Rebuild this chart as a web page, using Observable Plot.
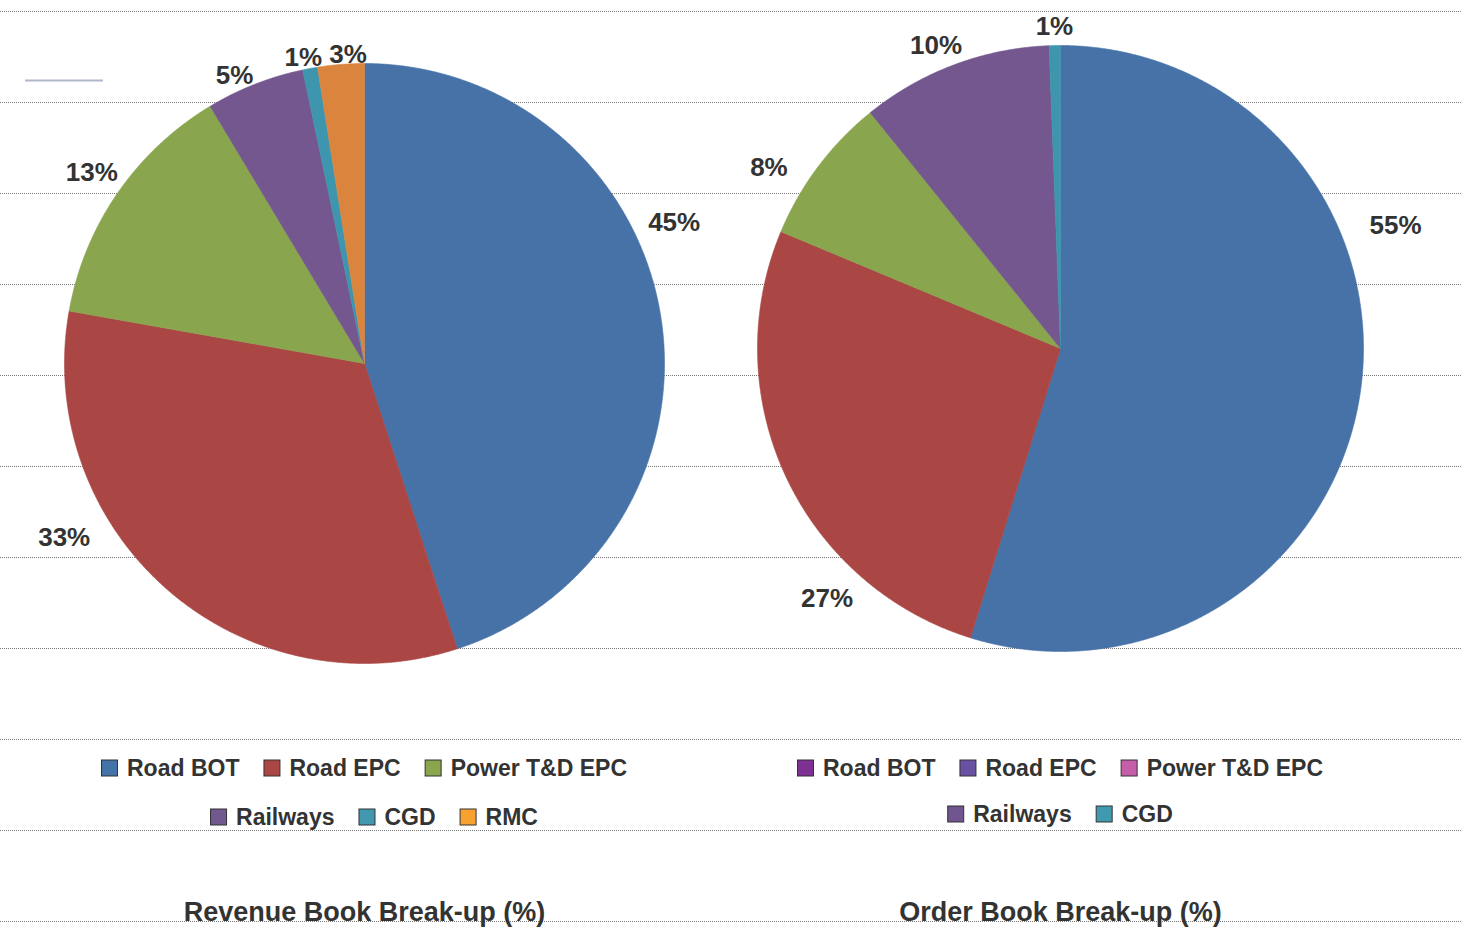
<!DOCTYPE html>
<html><head><meta charset="utf-8">
<script src="https://cdn.jsdelivr.net/npm/d3@7"></script>
<script src="https://cdn.jsdelivr.net/npm/@observablehq/plot@0.6"></script>
<style>body{margin:0;background:#fff;}</style>
</head><body><div id="chart"></div>
<script>
// ---- data ----
const revenueCategories = ["Road BOT", "Road EPC", "Power T&D EPC", "Railways", "CGD", "RMC"];
const revenueValues = [45, 32.8, 13.6, 5.3, 0.8, 2.5];
const revenueLabels = ["45%", "33%", "13%", "5%", "1%", "3%"];
const orderCategories = ["Road BOT", "Road EPC", "Power T&D EPC", "Railways", "CGD"];
const orderValues = [54.8, 26.5, 7.9, 10.2, 0.6];
const orderLabels = ["55%", "27%", "8%", "10%", "1%"];
const revenueTitle = "Revenue Book Break-up (%)";
const orderTitle = "Order Book Break-up (%)";

// ---- styles ----
const sliceColors = {"Road BOT":"#4672A7","Road EPC":"#AA4643","Power T&D EPC":"#89A54E","Railways":"#74578F","CGD":"#3D96AE","RMC":"#DB843D"};
const revLegendColors = {"Road BOT":"#4572A7","Road EPC":"#AA4643","Power T&D EPC":"#89A54E","Railways":"#71588F","CGD":"#4198AF","RMC":"#F7A230"};
const ordLegendColors = {"Road BOT":"#7E3192","Road EPC":"#6A52A3","Power T&D EPC":"#C55EA8","Railways":"#70558F","CGD":"#3F9AB0"};
const TEXT = "#333";
const FONT = "'Liberation Sans', Arial, Helvetica, sans-serif";

// ---- layout ----
const W = 1462, H = 932;
const pies = [
  {cats: revenueCategories, values: revenueValues, labels: revenueLabels, cx: 364, cy: 363, r: 300,
   labelFrac: [0.405, 0.66, 0.51, 0.35, 0.2, 0.66], labelPad: [40, 47, 33, 16, 12, 9],
   legendRows: [[0,1,2],[3,4,5]], legendY: [768, 817], legendShift: [0, 10], legendColors: revLegendColors, title: revenueTitle},
  {cats: orderCategories, values: orderValues, labels: orderLabels, cx: 1060, cy: 348, r: 303,
   labelFrac: [0.354, 0.27, 0.32, 0.45, 0.5], labelPad: [54, 39, 40, 24, 19],
   legendRows: [[0,1,2],[3,4]], legendY: [768, 814], legendShift: [0, 0], legendColors: ordLegendColors, title: orderTitle}
];
const titleY = 912;
const gridYs = d3.range(11, H, 91);

const ctx = document.createElement("canvas").getContext("2d");
const legendFontSize = 23;
ctx.font = `bold ${legendFontSize}px 'Liberation Sans'`;

const polys = [], pieLabels = [], swatches = [], legendTexts = [], titles = [];
pies.forEach((p, pi) => {
  const arcs = d3.pie().sort(null).value(d => d)(p.values);
  arcs.forEach((a, i) => {
    const key = pi + "-" + i;
    const col = sliceColors[p.cats[i]];
    polys.push({key, x: p.cx, y: p.cy, color: col});
    const n = Math.max(2, Math.ceil((a.endAngle - a.startAngle) / 0.004));
    for (let k = 0; k <= n; k++) {
      const t = a.startAngle + (a.endAngle - a.startAngle) * k / n;
      polys.push({key, x: p.cx + p.r * Math.sin(t), y: p.cy - p.r * Math.cos(t), color: col});
    }
    polys.push({key, x: p.cx, y: p.cy, color: col});
    const la = a.startAngle + (a.endAngle - a.startAngle) * p.labelFrac[i];
    const ld = p.r + p.labelPad[i];
    pieLabels.push({x: p.cx + ld * Math.sin(la), y: p.cy - ld * Math.cos(la), text: p.labels[i]});
  });
  // legend
  const sw = 16, gapIn = 9, gapOut = 25;
  p.legendRows.forEach((row, ri) => {
    const widths = row.map(i => sw + gapIn + ctx.measureText(p.cats[i]).width);
    const total = d3.sum(widths) + gapOut * (row.length - 1);
    let x = p.cx - total / 2 + p.legendShift[ri];
    const y = p.legendY[ri];
    row.forEach((i, j) => {
      swatches.push({x1: x, x2: x + sw, y1: y - 8, y2: y + 8, color: p.legendColors[p.cats[i]]});
      legendTexts.push({x: x + sw + gapIn, y, text: p.cats[i]});
      x += widths[j] + gapOut;
    });
  });
  titles.push({x: p.cx, y: titleY, text: p.title});
});

const chart = Plot.plot({
  width: W, height: H, margin: 0,
  x: {domain: [0, W], range: [0, W], axis: null},
  y: {domain: [0, H], range: [0, H], axis: null},
  color: {type: "identity"},
  style: {fontFamily: FONT, background: "#fff", color: TEXT},
  marks: [
    Plot.ruleY(gridYs, {stroke: "#777", strokeDasharray: "1,1", strokeWidth: 1}),
    Plot.ruleY([80], {x1: 25, x2: 103, stroke: "#AEB8CA", strokeWidth: 2}),
    Plot.line(polys, {x: "x", y: "y", z: "key", fill: "color", stroke: "color", strokeWidth: 0.6, curve: "linear"}),
    Plot.text(pieLabels, {x: "x", y: "y", text: "text", fontSize: 26, fontWeight: "bold", fill: TEXT, textAnchor: "middle", lineAnchor: "middle"}),
    Plot.rect(swatches, {x1: "x1", x2: "x2", y1: "y1", y2: "y2", fill: "color", stroke: "#333", strokeWidth: 1}),
    Plot.text(legendTexts, {x: "x", y: "y", text: "text", fontSize: legendFontSize, fontWeight: "bold", fill: TEXT, textAnchor: "start", lineAnchor: "middle"}),
    Plot.text(titles, {x: "x", y: "y", text: "text", fontSize: 27, fontWeight: "bold", fill: TEXT, textAnchor: "middle", lineAnchor: "middle"})
  ]
});
document.getElementById("chart").appendChild(chart);
</script>
</body></html>
